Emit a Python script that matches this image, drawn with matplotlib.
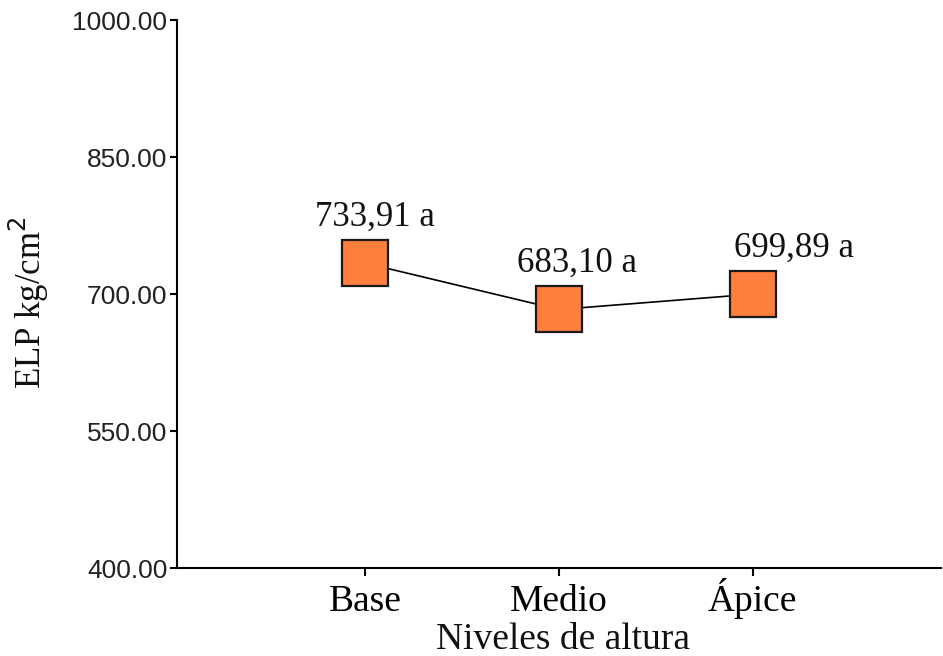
import numpy as np
import matplotlib.pyplot as plt

# data
niveles = ["Base", "Medio", "Ápice"]
elp = [733.91, 683.10, 699.89]
letras = ["a", "a", "a"]
y_ticks = [400, 550, 700, 850, 1000]

# label shifts (points) so the annotations sit like the original
label_dx = [7, 13, 30]


def draw_chart():
    fig = plt.figure(figsize=(9.43, 6.56), dpi=100)
    ax = fig.add_axes([0.1877, 0.134, 0.81, 0.8355])

    x = np.arange(len(niveles))
    ax.plot(x, elp, color="black", lw=1.2, zorder=2)
    ax.plot(x, elp, ls="none", marker="s", markersize=33,
            markerfacecolor="#FF7F3F", markeredgecolor="#1a1a1a",
            markeredgewidth=1.6, zorder=3)

    for xi, val, let, dx in zip(x, elp, letras, label_dx):
        txt = f"{val:.2f}".replace(".", ",") + " " + let
        ax.annotate(txt, (xi, val), xytext=(dx, 27), textcoords="offset points",
                    ha="center", va="baseline", fontsize=25,
                    family="Liberation Serif", color="#111111")

    ax.set_xlim(-0.97, 2.97)
    ax.set_ylim(400, 1000)
    ax.set_yticks(y_ticks)
    ax.set_yticklabels([f"{v:.2f}" for v in y_ticks],
                       family="Liberation Sans", fontsize=19, color="#222222")
    ax.set_xticks(x)
    ax.set_xticklabels(niveles, family="Liberation Serif", fontsize=27,
                       va="baseline")

    for s in ("top", "right"):
        ax.spines[s].set_visible(False)
    for s in ("left", "bottom"):
        ax.spines[s].set_linewidth(1.5)
    ax.tick_params(axis="y", direction="out", length=5, width=1.5, pad=2)
    ax.tick_params(axis="x", direction="out", length=6, width=1.5, pad=25)

    ax.set_ylabel("ELP kg/cm$^2$", family="Liberation Serif", fontsize=25,
                  color="#111111")
    ax.yaxis.set_label_coords(-0.165, 0.485)
    ax.set_xlabel("Niveles de altura", family="Liberation Serif", fontsize=27,
                  color="#111111")
    ax.xaxis.set_label_coords(0.505, -0.1)

    return fig


def main():
    fig = draw_chart()
    fig.savefig("out.png", dpi=100)


if __name__ == "__main__":
    main()
